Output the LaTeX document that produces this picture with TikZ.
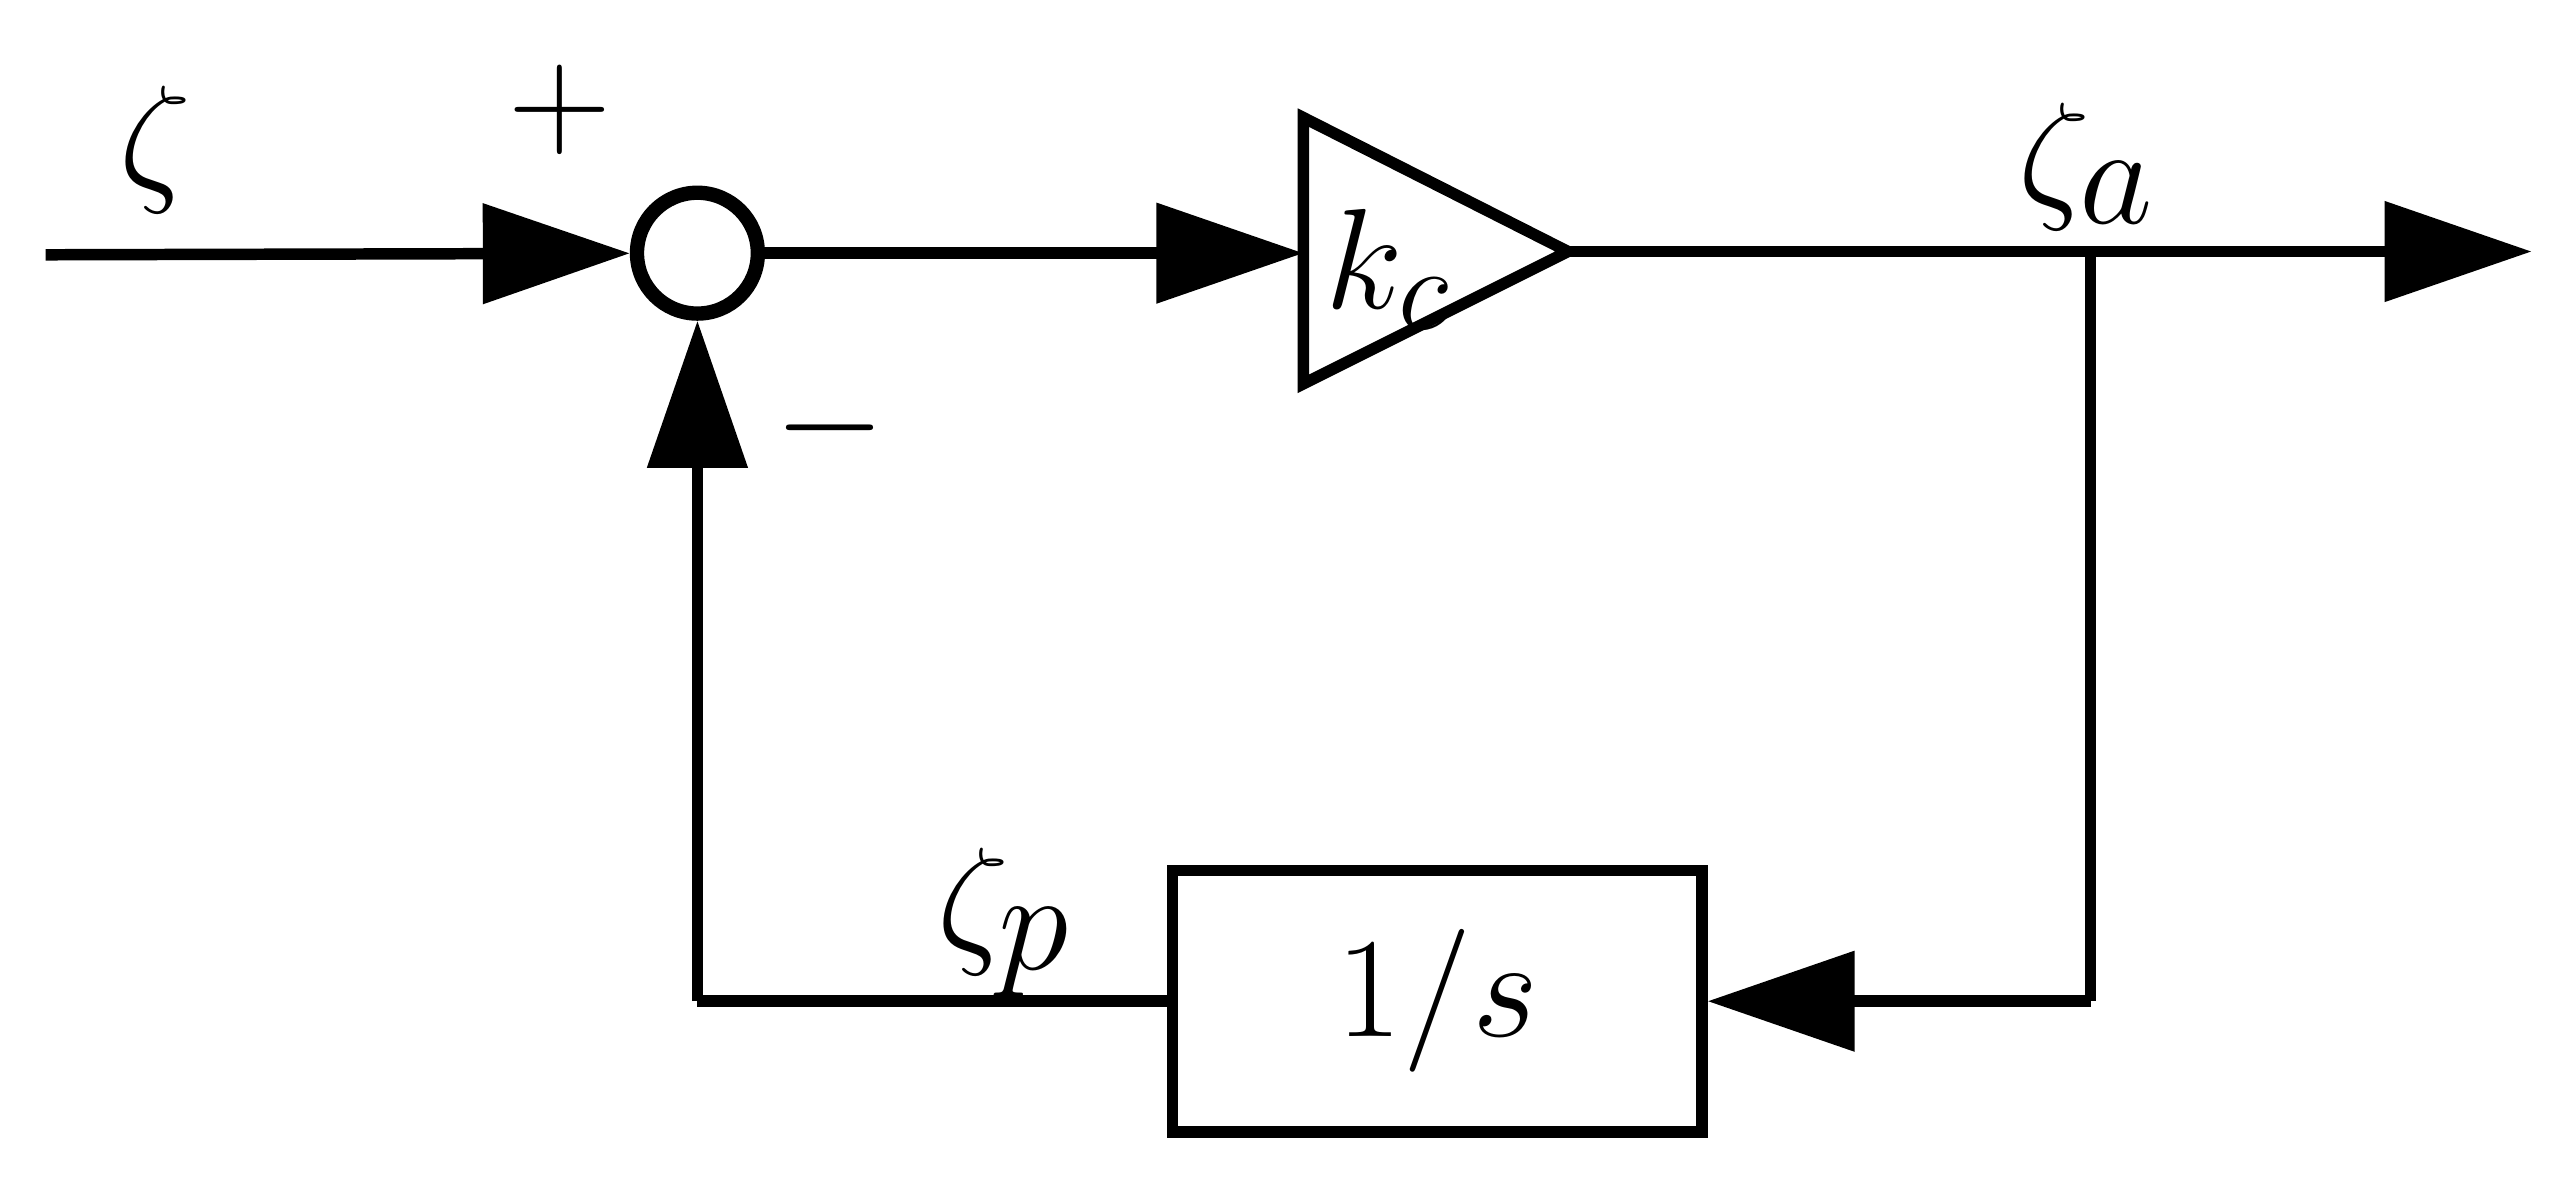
\documentclass[tikz,border=0pt]{standalone}
\usetikzlibrary{arrows.meta}
\usetikzlibrary{positioning}
\usetikzlibrary{calc}
\begin{document}
\begin{tikzpicture}[line width=2pt,>={Triangle[length=9mm,width=6mm]},
  lbl/.style={inner sep=0pt,font=\fontsize{30}{36}\selectfont}]
\useasboundingbox (0,0) rectangle (15.68,7.27);
\node (in) at (0.28,5.71) {};
\node[draw,circle,minimum size=7.4mm,inner sep=0pt,line width=2.5pt] (sum) at (4.27,5.72) {};
\coordinate (tl) at (7.98,6.55);
\coordinate (bl) at (7.98,4.92);
\coordinate (ap) at (9.60,5.73);
\draw[line join=miter] (tl) -- (ap) -- (bl) -- cycle;
\node[lbl] (kc) at (8.50,5.62) {$k_c$};
\coordinate (br) at (12.80,5.73);
\coordinate (out) at (15.50,5.73);
\coordinate (cr) at (12.80,1.14);
\coordinate (cl) at (4.27,1.14);
\node[draw,minimum width=3.24cm,minimum height=1.6cm,lbl] (int) at (8.80,1.14) {$1/s$};
\draw[->] (0.28,5.71) -- (sum);
\draw[->] (sum) -- (bl |- sum);
\draw[->] (ap) -- (out);
\draw (br) -- (cr);
\draw[->] (cr) -- (int);
\draw (int) -- (cl);
\draw[->] (cl) -- (sum);
% labels
\node[lbl,font=\fontsize{40}{48}\selectfont] (zeta) at (0.95,6.35) {$\zeta$};
\node[lbl] (plus) at (3.43,6.60) {$+$};
\node[lbl] (minus) at (5.08,4.65) {$-$};
\node[lbl,font=\fontsize{40}{48}\selectfont] (za) at (12.78,6.25) {$\zeta_a$};
\node[lbl,font=\fontsize{40}{48}\selectfont] (zp) at (6.15,1.62) {$\zeta_p$};
\end{tikzpicture}
\end{document}
